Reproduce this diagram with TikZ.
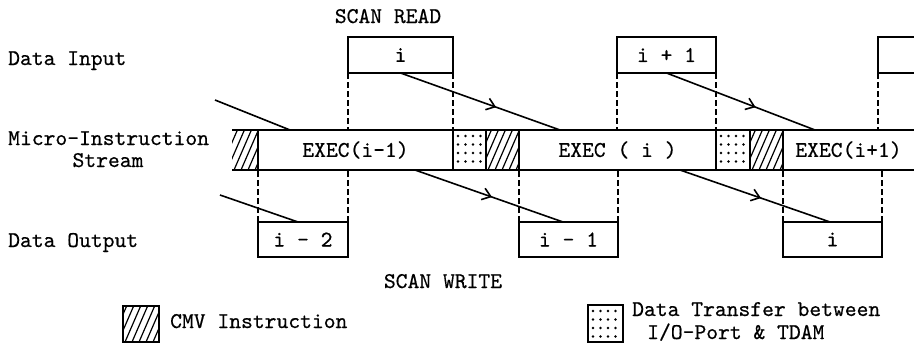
\documentclass[tikz,border=0pt]{standalone}
\usepackage{fontspec}
\newfontfamily\mono[FakeBold=0.5]{lmmono10-regular.otf}
\usetikzlibrary{calc,arrows.meta,decorations.markings}
\begin{document}
\begin{tikzpicture}[x=1pt,y=-1pt,
  font=\mono\fontsize{22.5}{20}\selectfont,
  box/.style={draw,line width=2pt,rectangle,inner sep=0pt,outer sep=0pt,anchor=north west},
  seg/.style={rectangle,inner sep=0pt,outer sep=0pt,anchor=north west,minimum height=40pt},
  hatch/.style={path picture={\foreach \k in {-40,-33,...,60}{\draw[line width=1.2pt] ($(path picture bounding box.south west)+(\k,0)$) -- ++(20,-46);}}},
  dots/.style={path picture={\foreach \i in {0,...,3}{\foreach \j in {0,...,3}{\fill ($(path picture bounding box.north west)+(5+7.5*\i,6+8.5*\j)$) circle (1.4pt);}}}},
  vdash/.style={line width=1.6pt,dash pattern=on 6pt off 3pt},
  conn/.style={line width=1.6pt},
  midarrow/.style={conn,postaction={decorate},decoration={markings,mark=at position #1 with {\arrow{Straight Barb[length=8pt,width=12pt,line width=1.6pt]}}}},
  lbl/.style={anchor=base west,inner sep=0pt},
  clbl/.style={anchor=base,inner sep=0pt}]
\useasboundingbox (0,0) rectangle (914,343);
\clip (0,0) rectangle (914,343);
\fill[white] (0,0) rectangle (914,343);

% labels
\node[lbl] (lin) at (8,65) {Data Input};
\node[lbl] (lmis) at (8,145) {Micro-Instruction};
\node[clbl] (lstr) at (108,167) {Stream};
\node[lbl] (lout) at (8,247) {Data Output};
\node[clbl] (sread) at (388,23) {SCAN READ};
\node[clbl] (swrite) at (443,288) {SCAN WRITE};

% input boxes
\node[box,minimum width=105pt,minimum height=36pt] (in1) at (348,37) {i};
\node[box,minimum width=99pt,minimum height=36pt] (in2) at (617,37) {i + 1};
\node[box,minimum width=60pt,minimum height=36pt] (in3) at (878,37) {};

% stream segments
\node[seg,hatch,minimum width=26pt] (cmv0) at (232,130) {};
\node[seg,box,minimum width=195pt,minimum height=40pt] (exec1) at (258,130) {EXEC(i-1)};
\node[seg,box,dots,minimum width=33pt,minimum height=40pt] (dt1) at (453,130) {};
\node[seg,box,hatch,minimum width=33pt,minimum height=40pt] (cmv1) at (486,130) {};
\node[seg,box,minimum width=197pt,minimum height=40pt] (exec2) at (519,130) {EXEC ( i )};
\node[seg,box,dots,minimum width=34pt,minimum height=40pt] (dt2) at (716,130) {};
\node[seg,box,hatch,minimum width=33pt,minimum height=40pt] (cmv2) at (750,130) {};
\node[seg,minimum width=131pt] (exec3) at (783,130) {EXEC(i+1)};
\draw[line width=2pt] (cmv0.north west) -- (exec3.north east);
\draw[line width=2pt] (cmv0.south west) -- (exec3.south east);

% output boxes
\node[box,minimum width=90pt,minimum height=35pt] (out1) at (258,222) {i - 2};
\node[box,minimum width=99pt,minimum height=35pt] (out2) at (519,222) {i - 1};
\node[box,minimum width=99pt,minimum height=35pt] (out3) at (783,222) {i};

% dashed verticals
\draw[vdash] (in1.south west) -- (in1.south west |- exec1.north);
\draw[vdash] (in1.south east) -- (in1.south east |- exec1.north);
\draw[vdash] (in2.south west) -- (in2.south west |- exec1.north);
\draw[vdash] (in2.south east) -- (in2.south east |- exec1.north);
\draw[vdash] (in3.south west) -- (in3.south west |- exec1.north);
\draw[vdash] (out1.north west) -- (out1.north west |- exec1.south);
\draw[vdash] (out1.north east) -- (out1.north east |- exec1.south);
\draw[vdash] (out2.north west) -- (out2.north west |- exec1.south);
\draw[vdash] (out2.north east) -- (out2.north east |- exec1.south);
\draw[vdash] (out3.north west) -- (out3.north west |- exec1.south);
\draw[vdash] (out3.north east) -- (out3.north east |- exec1.south);

% connectors
\coordinate (f1) at (215,100);
\coordinate (f2) at (220,195);
\draw[conn] (f1) -- ($(exec1.north west)+(32,0)$);
\draw[conn] (f2) -- ($(out1.north west)+(40,0)$);
\draw[midarrow=0.6] (in1.south) -- ($(exec2.north west)+(41,0)$);
\draw[midarrow=0.6] (in2.south) -- ($(exec3.north west)+(32,0)$);
\draw[midarrow=0.52] ($(exec1.south west)+(157,0)$) -- ($(out2.north west)+(44,0)$);
\draw[midarrow=0.54] ($(exec2.south west)+(161,0)$) -- ($(out3.north west)+(47,0)$);

% legend
\node[box,hatch,minimum width=36pt,minimum height=36pt] (kcmv) at (123,306) {};
\node[lbl] (tcmv) at (170,328) {CMV Instruction};
\node[box,dots,minimum width=35pt,minimum height=37pt] (kdt) at (588,305) {};
\node[lbl] (tdt1) at (632,316) {Data Transfer between};
\node[lbl] (tdt2) at (647,339) {I/O-Port \& TDAM};
\end{tikzpicture}
\end{document}
